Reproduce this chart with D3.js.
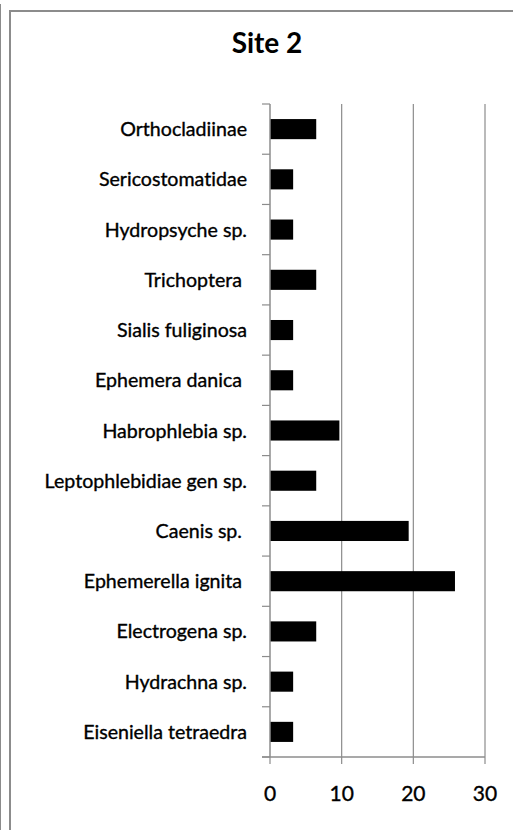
<!DOCTYPE html>
<html><head><meta charset="utf-8">
<script src="https://cdn.jsdelivr.net/npm/d3@7"></script>
<style>html,body{margin:0;padding:0;background:#fff;overflow:hidden} text{font-variant-ligatures:none;font-feature-settings:"liga" 0}</style>
</head><body>
<svg id="chart" width="513" height="830"></svg>
<script>
const title = "Site 2";
const categories = ["Orthocladiinae","Sericostomatidae","Hydropsyche sp.","Trichoptera ","Sialis fuliginosa","Ephemera danica ","Habrophlebia sp.","Leptophlebidiae gen sp.","Caenis sp. ","Ephemerella ignita ","Electrogena sp.","Hydrachna sp.","Eiseniella tetraedra"];
const values = [6.45,3.23,3.23,6.45,3.23,3.23,9.68,6.45,19.35,25.81,6.45,3.23,3.23];
const xTicks = [0,10,20,30];

const svg = d3.select("#chart");
const font = "Lato, 'Open Sans', sans-serif";
const grey = "#8c8c8c";

// frame
svg.append("line").attr("x1",0.5).attr("x2",0.5).attr("y1",4).attr("y2",830).attr("stroke",grey).attr("stroke-width",1);
svg.append("rect").attr("x",10).attr("y",11).attr("width",520).attr("height",840)
  .attr("fill","#fff").attr("stroke",grey).attr("stroke-width",2);

const x = d3.scaleLinear().domain([0,30]).range([270,485]);
const y = d3.scaleBand().domain(categories).range([104,757]).paddingInner(0.6).paddingOuter(0.3);

// gridlines
svg.append("g").selectAll("line").data(xTicks.slice(1)).join("line")
  .attr("x1",d=>x(d)).attr("x2",d=>x(d)).attr("y1",104).attr("y2",757)
  .attr("stroke",grey).attr("stroke-width",1.2);

// bars
svg.append("g").selectAll("rect").data(values).join("rect")
  .attr("x",x(0)).attr("y",(d,i)=>y(categories[i]))
  .attr("width",d=>x(d)-x(0)).attr("height",y.bandwidth())
  .attr("fill","#000");

// y axis line and ticks at band boundaries
svg.append("line").attr("x1",x(0)).attr("x2",x(0)).attr("y1",104).attr("y2",757).attr("stroke",grey).attr("stroke-width",1.5);
const bounds = d3.range(categories.length+1).map(i=>104 + i*y.step());
svg.append("g").selectAll("line").data(bounds).join("line")
  .attr("x1",262).attr("x2",x(0)).attr("y1",d=>d).attr("y2",d=>d)
  .attr("stroke",grey).attr("stroke-width",1.2);

// x axis
svg.append("line").attr("x1",262).attr("x2",x(30)).attr("y1",757).attr("y2",757).attr("stroke",grey).attr("stroke-width",1.5);
svg.append("g").selectAll("line").data(xTicks).join("line")
  .attr("x1",d=>x(d)).attr("x2",d=>x(d)).attr("y1",757).attr("y2",764)
  .attr("stroke",grey).attr("stroke-width",1.2);
svg.append("g").selectAll("text").data(xTicks).join("text")
  .attr("x",d=>x(d)).attr("y",801).attr("text-anchor","middle")
  .attr("font-family",font).attr("font-size",21).attr("fill","#000")
  .attr("stroke","#000").attr("stroke-width",0.35).text(d=>d);

// category labels
svg.append("g").selectAll("text").data(categories).join("text")
  .attr("x",247).attr("y",d=>y(d)+y.bandwidth()/2).attr("dy","0.36em")
  .attr("text-anchor","end").attr("font-family",font).attr("font-size",19.6)
  .style("white-space","pre").attr("fill","#000")
  .attr("stroke","#000").attr("stroke-width",0.35).text(d=>d);

// title
svg.append("text").attr("x",267).attr("y",53).attr("text-anchor","middle")
  .attr("font-family",font).attr("font-size",28).attr("font-weight","bold").attr("fill","#000").text(title);
</script>
</body></html>
